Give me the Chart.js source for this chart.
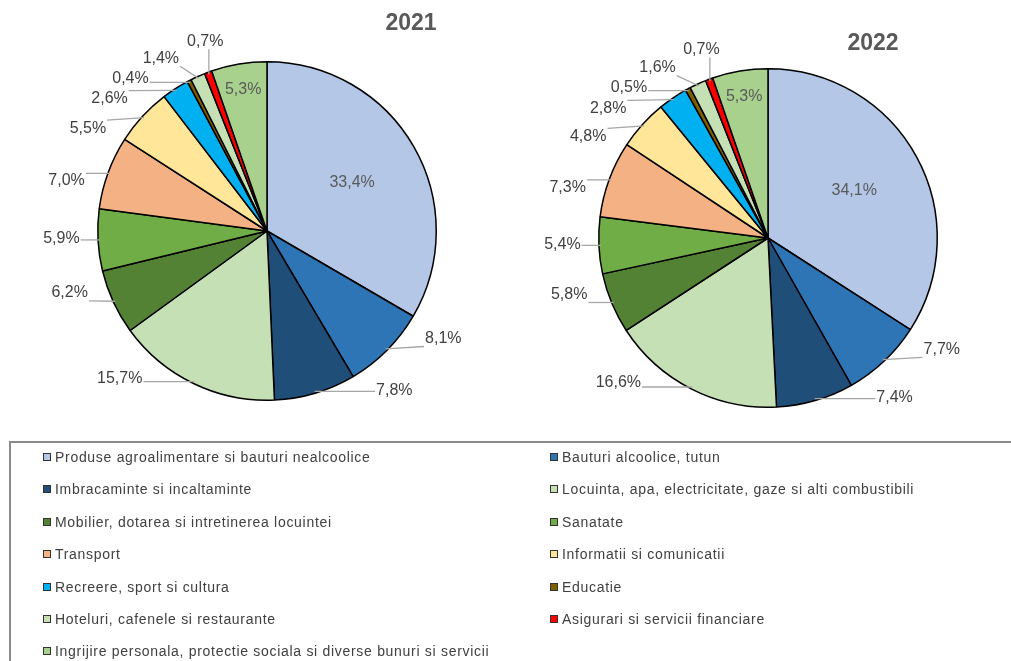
<!DOCTYPE html>
<html>
<head>
<meta charset="utf-8">
<script src="https://cdn.jsdelivr.net/npm/chart.js@4/dist/chart.umd.min.js"></script>
<style>
    body { margin: 0; width: 1011px; height: 661px; overflow: hidden; background: #fff; position: relative;
           font-family: "Liberation Sans", Arial, sans-serif; }
    .wrap { position: absolute; top: 0; }
    #wrap2021 { left: 0; width: 500px; height: 462px; }
    #wrap2022 { left: 500px; width: 511px; height: 476px; }
    .title { position: absolute; width: 80px; text-align: center; font-weight: bold; font-size: 23px;
             line-height: 26px; color: #595959; }
    #legend { position: absolute; left: 9px; top: 441px; width: 1100px; height: 300px;
              border: 2px solid #8a8a8a; box-sizing: border-box; }
    .item { position: absolute; font-size: 14px; letter-spacing: 0.7px; line-height: 16px; color: #404040;
            white-space: nowrap; }
    .item i { display: inline-block; width: 6px; height: 6px; border: 1px solid #333; margin-right: 4px;
              vertical-align: 1px; }
</style>
</head>
<body>
<div class="wrap" id="wrap2021"><canvas id="chart2021"></canvas></div>
<div class="wrap" id="wrap2022"><canvas id="chart2022"></canvas></div>
<div class="title" style="left:371px; top:9px;">2021</div>
<div class="title" style="left:833px; top:29px;">2022</div>
<div id="legend"></div>

<script>
const categories = [
    "Produse agroalimentare si bauturi nealcoolice",
    "Bauturi alcoolice, tutun",
    "Imbracaminte si incaltaminte",
    "Locuinta, apa, electricitate, gaze si alti combustibili",
    "Mobilier, dotarea si intretinerea locuintei",
    "Sanatate",
    "Transport",
    "Informatii si comunicatii",
    "Recreere, sport si cultura",
    "Educatie",
    "Hoteluri, cafenele si restaurante",
    "Asigurari si servicii financiare",
    "Ingrijire personala, protectie sociala si diverse bunuri si servicii"
];
const values2021 = [33.4, 8.1, 7.8, 15.7, 6.2, 5.9, 7.0, 5.5, 2.6, 0.4, 1.4, 0.7, 5.3];
const values2022 = [34.1, 7.7, 7.4, 16.6, 5.8, 5.4, 7.3, 4.8, 2.8, 0.5, 1.6, 0.7, 5.3];

const colors = ["#b4c7e7", "#2e75b6", "#1f4e79", "#c5e0b4", "#548235", "#70ad47", "#f4b183",
                "#ffe699", "#00b0f0", "#7f6000", "#c5e0b4", "#ff0000", "#a9d18e"];

// slices whose label sits inside the pie
const insideLabels = [0, 12];

// percentage labels with leader lines, spread apart so they don't collide
const pieLabels = {
    id: "pieLabels",
    afterDraw(chart) {
        const ctx = chart.ctx;
        const meta = chart.getDatasetMeta(0);
        const values = chart.data.datasets[0].data;
        ctx.save();
        ctx.font = "16px 'Liberation Sans', Arial, sans-serif";
        ctx.textAlign = "center";
        ctx.textBaseline = "middle";

        const outside = [];
        let cx = 0, cy = 0, r = 0;
        meta.data.forEach((arc, i) => {
            const p = arc.getProps(["x", "y", "startAngle", "endAngle", "outerRadius"], true);
            cx = p.x; cy = p.y; r = p.outerRadius;
            const mid = (p.startAngle + p.endAngle) / 2;
            const txt = values[i].toFixed(1).replace(".", ",") + "%";
            if (insideLabels.includes(i)) {
                const d = values[i] > 20 ? r * 0.58 : r * 0.85;
                ctx.fillStyle = "#595959";
                ctx.fillText(txt, cx + d * Math.cos(mid), cy + d * Math.sin(mid));
            } else {
                // pull the label towards the horizontal
                const side = Math.cos(mid) >= 0 ? 0 : Math.PI;
                let dev = mid - side;
                dev = Math.atan2(Math.sin(dev), Math.cos(dev));
                outside.push({ mid, ang: side + dev * 0.7, txt, w: ctx.measureText(txt).width, h: 14 });
            }
        });

        const gap = 18;
        const place = it => {
            const c = Math.cos(it.ang), s = Math.sin(it.ang);
            const d = r + gap + it.w / 2 * Math.abs(c) + it.h / 2 * Math.abs(s);
            it.x = cx + d * c;
            it.y = cy + d * s;
        };
        const overlap = (a, b) => Math.abs(a.x - b.x) < (a.w + b.w) / 2 + 7 &&
                                  Math.abs(a.y - b.y) < (a.h + b.h) / 2 + 6;
        // sweep clockwise: each label moves on until it clears the previous one
        outside.sort((a, b) => a.mid - b.mid);
        outside.forEach((it, j) => {
            place(it);
            if (j === 0) return;
            let n = 0;
            while (overlap(outside[j - 1], it) && n++ < 400) {
                it.ang += 0.005;
                place(it);
            }
        });

        outside.forEach(it => {
            const px = cx + (r - 2) * Math.cos(it.mid);
            const py = cy + (r - 2) * Math.sin(it.mid);
            // nearest point of the text box to the slice edge
            const ax = Math.min(Math.max(px, it.x - it.w / 2 - 1), it.x + it.w / 2 + 1);
            const ay = Math.min(Math.max(py, it.y - it.h / 2 - 1), it.y + it.h / 2 + 1);
            ctx.strokeStyle = "#a6a6a6";
            ctx.lineWidth = 1.3;
            ctx.beginPath();
            ctx.moveTo(ax, ay);
            ctx.lineTo(px, py);
            ctx.stroke();
            ctx.fillStyle = "#404040";
            ctx.fillText(it.txt, it.x, it.y);
        });
        ctx.restore();
    }
};

function makePie(canvasId, values, padding) {
    return new Chart(document.getElementById(canvasId), {
        type: "pie",
        data: {
            labels: categories,
            datasets: [{
                data: values,
                backgroundColor: colors,
                borderColor: "#000",
                borderWidth: 1.5
            }]
        },
        options: {
            responsive: true,
            maintainAspectRatio: false,
            animation: false,
            layout: { padding: padding },
            plugins: { legend: { display: false }, tooltip: { enabled: false } }
        },
        plugins: [pieLabels]
    });
}

makePie("chart2021", values2021, { left: 97, right: 63, top: 61, bottom: 61 });
makePie("chart2022", values2022, { left: 98, right: 73, top: 68, bottom: 68 });

// legend, two columns in row order
const legend = document.getElementById("legend");
categories.forEach((name, i) => {
    const el = document.createElement("div");
    el.className = "item";
    el.style.left = (i % 2 === 0 ? 32 : 539) + "px";
    el.style.top = (6 + Math.floor(i / 2) * 32.4) + "px";
    el.innerHTML = '<i style="background:' + colors[i] + '"></i>' + name;
    legend.appendChild(el);
});
</script>
</body>
</html>
